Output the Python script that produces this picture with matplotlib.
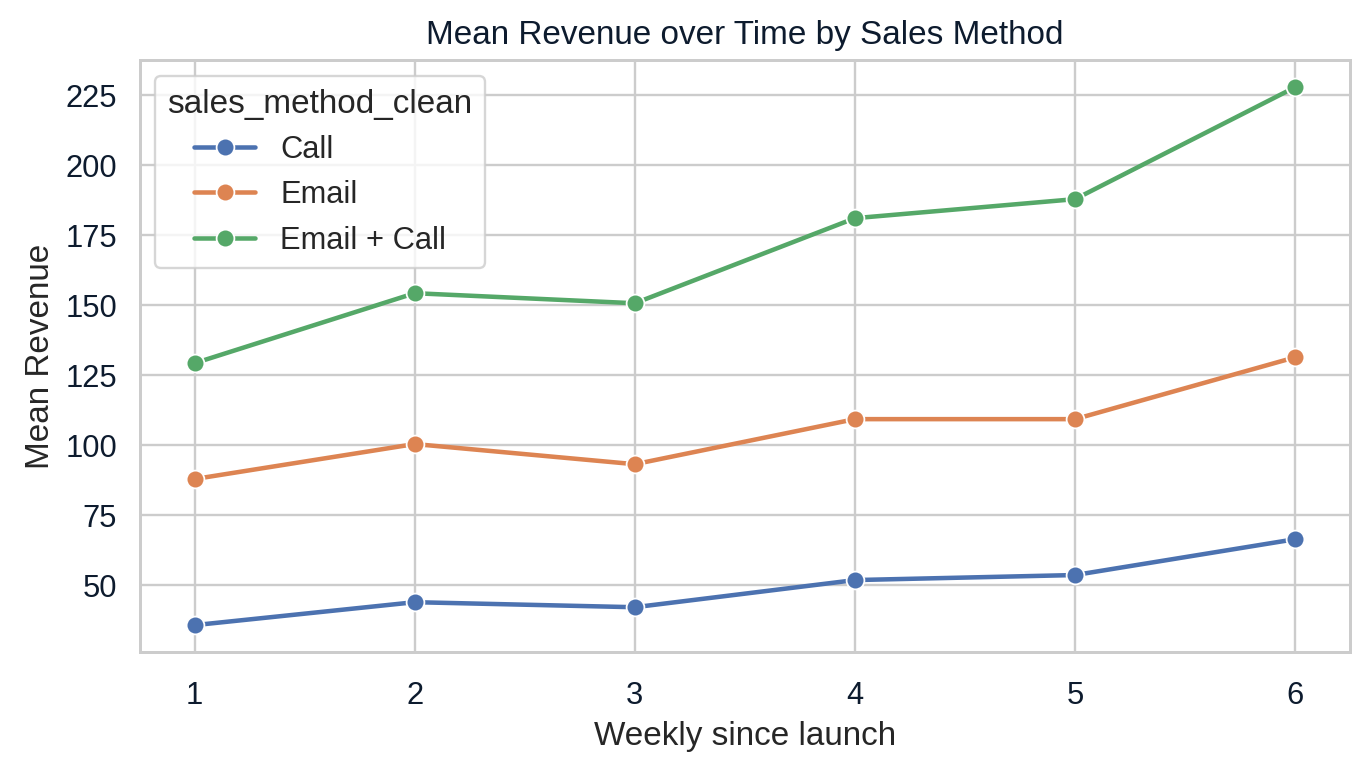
import matplotlib
matplotlib.use('Agg')
import matplotlib.pyplot as plt
import seaborn as sns
import pandas as pd

weeks = [1, 2, 3, 4, 5, 6]
methods = ['Call', 'Email', 'Email + Call']
call_rev = [35.7, 43.9, 42.1, 51.8, 53.6, 66.4]
email_rev = [87.9, 100.4, 93.2, 109.3, 109.3, 131.4]
email_call_rev = [129.3, 154.3, 150.7, 181.1, 187.9, 227.9]

df = pd.DataFrame({
    'week': weeks * 3,
    'sales_method_clean': [m for m in methods for _ in weeks],
    'revenue': call_rev + email_rev + email_call_rev,
})

sns.set_theme(style='whitegrid')
plt.rcParams['font.family'] = ['Liberation Sans', 'DejaVu Sans']

navy = '#0d1b2e'
fig, ax = plt.subplots(figsize=(8, 4.5), dpi=171)
sns.lineplot(data=df, x='week', y='revenue', hue='sales_method_clean',
             marker='o', markersize=7.5, linewidth=1.9, ax=ax)

ax.set_title('Mean Revenue over Time by Sales Method', color=navy, fontsize=14, pad=7)
ax.set_xlabel('Weekly since launch', fontsize=14, color='#262626')
ax.set_ylabel('Mean Revenue', fontsize=14, color='#262626')
ax.set_xticks(weeks)
ax.set_yticks([50, 75, 100, 125, 150, 175, 200, 225])
ax.tick_params(labelsize=13, colors=navy)
ax.tick_params(axis='x', pad=6)
for s in ax.spines.values():
    s.set_color('#cccccc')
    s.set_linewidth(1.25)

leg = ax.legend(title='sales_method_clean', fontsize=13, title_fontsize=14,
                loc='upper left')

plt.subplots_adjust(left=0.102, right=0.987, top=0.921, bottom=0.152)
plt.savefig('out.png', dpi=171)
